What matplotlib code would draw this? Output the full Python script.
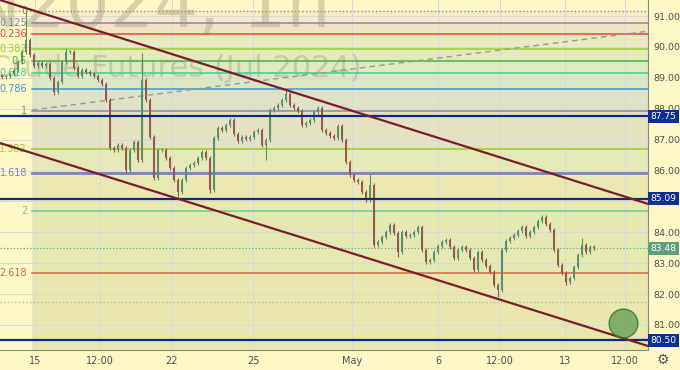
"""
Brent futures 1h chart with fib levels and channel
"""
import matplotlib
matplotlib.use('Agg')
import matplotlib.pyplot as plt
import matplotlib.transforms as mtransforms
import numpy as np

# hourly-ish closes (one value every few bars)
closes = [
	89.03, 89.06, 89.12, 89.25, 89.51, 89.83, 90.22, 89.74, 89.38, 89.48,
	89.38, 89.45, 88.99, 88.54, 88.86, 89.51, 89.83, 89.83, 89.32, 89.06,
	89.25, 89.19, 89.12, 89.06, 88.93, 88.80, 88.28, 86.73, 86.66, 86.83,
	86.73, 86.02, 86.66, 86.92, 86.34, 88.93, 88.28, 87.08, 85.76, 86.66,
	86.66, 86.40, 86.08, 85.69, 85.30, 85.69, 86.08, 86.18, 86.24, 86.40,
	86.60, 86.40, 85.37, 87.05, 87.38, 87.31, 87.47, 87.63, 87.18, 86.95,
	87.08, 87.02, 87.08, 87.25, 87.31, 86.83, 86.99, 87.96, 88.02, 88.12,
	88.28, 88.48, 88.12, 88.02, 87.93, 87.47, 87.54, 87.63, 87.89, 88.02,
	87.31, 87.21, 87.12, 87.05, 87.44, 86.99, 86.28, 85.85, 85.69, 85.63,
	85.30, 85.05, 85.53, 83.59, 83.69, 83.85, 84.01, 84.24, 83.98, 83.36,
	84.01, 83.88, 83.91, 84.01, 84.17, 83.43, 83.04, 83.10, 83.36, 83.56,
	83.69, 83.75, 83.52, 83.17, 83.43, 83.52, 83.43, 83.17, 82.78, 83.36,
	83.10, 82.91, 82.72, 82.29, 82.13, 83.43, 83.72, 83.82, 83.91, 84.04,
	84.17, 83.88, 84.01, 84.17, 84.37, 84.50, 84.27, 84.07, 83.43, 82.94,
	82.68, 82.39, 82.52, 82.88, 83.27, 83.59, 83.36, 83.52, 83.48,
]
# wick extremes that stick out
spike_highs = {6: 91.19, 16: 89.96, 35: 89.80, 71: 88.61, 92: 85.92, 145: 83.82}
spike_lows = {13: 88.44, 31: 85.92, 44: 85.14, 52: 85.27, 66: 86.34, 99: 83.20, 124: 81.91, 141: 82.29}

# fibonacci retracement
fib_top = 91.18
fib_bottom = 87.93
fib_ratios = [0, 0.125, 0.236, 0.382, 0.5, 0.618, 0.786, 1, 1.382, 1.618, 2, 2.618]
fib_labels = ['0', '0.125', '0.236', '0.382', '0.5', '0.618', '0.786', '1', '1.382', '1.618', '2', '2.618']
fib_colors = ['#8c8c8c', '#8e7cc3', '#e0483e', '#9acd32', '#4caf50', '#3ecf8e', '#3d9ad1',
	'#8c8c8c', '#9acd32', '#7d7fc8', '#5ed6a0', '#d46a4a']
fib_fills = ['#f7ecc5', '#f1e3c0', '#ebe9bf', '#e3ebbd', '#dfeabf', '#dde7c3', '#dfe2c6',
	'#e4e2c0', '#e6e8b8', '#ebe7b0', '#e6e8b2', '#e9e6ae']

# marked levels
key_levels = [87.75, 85.09, 80.50]
last_price = 83.48
dotted_level = 81.74

# channel + trend (bar, price)
channel_upper = [(-0.5, 91.52), (161.5, 84.92)]
channel_lower = [(-0.5, 86.89), (161.5, 80.32)]
dashed_trend = [(7.5, 87.96), (161.5, 90.51)]
target = (155.25, 81.07)

tick_pos = [8.25, 24.5, 42.5, 62.75, 87.5, 109, 124.5, 140.75, 155.75]
tick_labels = ['15', '12:00', '22', '25', 'May', '6', '12:00', '13', '12:00']
price_ticks = [81, 82, 83, 84, 86, 87, 88, 89, 90, 91]

bg = '#fdf8c6'
W, H = 680, 370

fig = plt.figure(figsize=(6.8, 3.7), dpi=100, facecolor=bg)
ax = fig.add_axes([0, 20 / H, 648 / W, 350 / H])
ax.set_facecolor(bg)
ax.set_xlim(-0.5, 161.5)
ax.set_ylim(80.19, 91.52)

# grid
for x in tick_pos:
	ax.axvline(x, color='#d6d9e2', lw=0.7, zorder=1)
for p in range(81, 92):
	ax.axhline(p, color='#d6d9e2', lw=0.7, zorder=1)

# fib bands and lines
x0 = 32 / 648
levels = [fib_top - r * (fib_top - fib_bottom) for r in fib_ratios]
for k in range(len(levels)):
	lo = levels[k + 1] if k + 1 < len(levels) else 80.0
	ax.axhspan(lo, levels[k], xmin=x0, color=fib_fills[k], lw=0, zorder=0)
for k, lev in enumerate(levels):
	if k == 0:
		ax.axhline(lev, color=fib_colors[k], lw=1, ls=':', zorder=2)
	else:
		lw = 2 if fib_labels[k] == '1.618' else 1.1
		ax.axhline(lev, xmin=x0, color=fib_colors[k], lw=lw, zorder=2)
	ax.text(6.25, lev, fib_labels[k], color=fib_colors[k], fontsize=7, ha='right', va='center', zorder=3)

ax.axhline(dotted_level, color='#b8b8a8', lw=1, ls=':', zorder=2)
ax.axhline(last_price, color='#6aa88a', lw=0.9, ls=':', zorder=2)

# watermark
ax.text(330 / 648, (350 - 27) / 350, 'BRNN2024, 1h', transform=ax.transAxes, fontsize=50,
	color='#aaa386', alpha=0.45, ha='right', va='baseline', clip_on=True, zorder=1)
ax.text(362 / 648, (350 - 77) / 350, 'Brent Crude Futures (Jul 2024)', transform=ax.transAxes,
	fontsize=22, color='#aaa386', alpha=0.45, ha='right', va='baseline', clip_on=True, zorder=1)

# candles
idx = np.arange(len(closes))
c = np.array(closes)
o = np.concatenate([[c[0] + 0.05], c[:-1]])
hi = np.maximum(o, c) + 0.06
lo = np.minimum(o, c) - 0.06
for k, v in spike_highs.items():
	hi[k] = v
for k, v in spike_lows.items():
	lo[k] = v
up = c >= o
cols = np.where(up, '#5a9070', '#8e5b4e')
ax.vlines(idx, lo, hi, colors=cols, lw=0.8, zorder=4)
body = np.maximum(np.abs(c - o), 0.03)
ax.bar(idx, body, bottom=np.minimum(o, c), width=0.6, color=cols, lw=0, zorder=5)

# key levels
for lev in key_levels:
	ax.axhline(lev, color='#0d2a8a', lw=1.6, zorder=6)

# channel
for line in (channel_upper, channel_lower):
	ax.plot([line[0][0], line[1][0]], [line[0][1], line[1][1]], color='#7a1c2c', lw=1.6, zorder=6)
ax.plot([dashed_trend[0][0], dashed_trend[1][0]], [dashed_trend[0][1], dashed_trend[1][1]],
	color='#9a9a96', lw=1, ls=(0, (4, 3)), zorder=3)

ax.scatter([target[0]], [target[1]], s=430, color='#5f9a4f', alpha=0.75,
	edgecolors='#2e6b2e', linewidths=1, zorder=7)

# axes
for s in ('top', 'left'):
	ax.spines[s].set_visible(False)
ax.spines['right'].set_color('#8a8a8a')
ax.spines['bottom'].set_color('#8a8a8a')
ax.set_xticks(tick_pos)
ax.set_xticklabels(tick_labels)
ax.yaxis.tick_right()
ax.set_yticks(price_ticks)
ax.set_yticklabels(['%.2f' % p for p in price_ticks])
ax.tick_params(axis='both', length=0, labelsize=7, labelcolor='#505050')
ax.tick_params(axis='y', labelsize=6.8, pad=4)
ax.tick_params(axis='x', pad=4)

tr = mtransforms.blended_transform_factory(ax.transAxes, ax.transData)
for lev in key_levels:
	ax.text(1.004, lev, '%.2f' % lev, transform=tr, fontsize=6.6, color='white', ha='left', va='center',
		bbox=dict(boxstyle='square,pad=0.25', fc='#0c2f96', ec='none'), zorder=10, clip_on=False)
ax.text(1.004, last_price, '%.2f' % last_price, transform=tr, fontsize=6.6, color='white', ha='left',
	va='center', bbox=dict(boxstyle='square,pad=0.25', fc='#5e9e80', ec='none'), zorder=10, clip_on=False)

fig.text(663 / W, 1 - 360 / H, '\u2699', fontsize=10, color='#555555', ha='center', va='center')

fig.savefig('out.png', dpi=100, facecolor=bg)
